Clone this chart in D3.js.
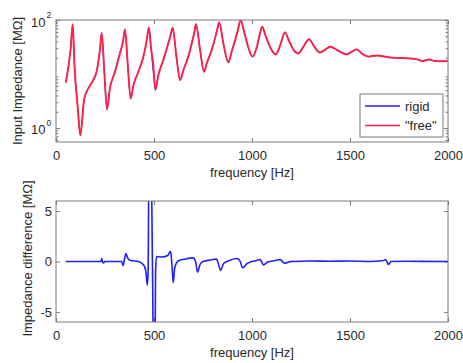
<!DOCTYPE html>
<html>
<head>
<meta charset="utf-8">
<script src="https://cdn.jsdelivr.net/npm/d3@7"></script>
<style>
  body { margin: 0; background: #fff; }
  svg { display: block; font-family: "Liberation Sans", Arial, Helvetica, sans-serif; }
</style>
</head>
<body>
<div id="chart"></div>
<script>
// Input impedance, "free" end - Hz / MOhm
const freeFreq = [50,63,75,85,95,111,124,143,160,190,207,224,233,246,260,275,301,326,343,352,366,381,
  395,420,446,462,474,485,490,495,507,522,547,573,586,595,615,633,650,675,697,707,714,735,755,
  769,794,816,826,832,855,879,895,912,928,942,960,980,1003,1025,1040,1052,1070,1095,1121,
  1145,1168,1190,1212,1236,1262,1291,1318,1347,1372,1398,1440,1483,1510,1534,1560,1593,
  1636,1700,1760,1800,1840,1870,1900,1930,1960,2000];
const freeVal = [6.9,13.5,30,84,13,2.4,0.73,3.3,5.0,7.7,11,27.7,58,11.8,2.2,5.4,11,24,42,67,15,3.5,
  6.2,11,21,40,72,30,22,17,5.2,9.5,18,37,55,72,20,7.7,11.8,21,43,62,84,28,11,
  15.7,27.7,53,75,91,35,16.4,25,40,65,100,60,32,21,32,55,75,50,30,23,
  35,59,40,28,24,32,44,32,25,28,32,27,23,26,28.6,24,21,
  22,20.3,19.8,19.5,18.8,17.3,18.6,17.5,17.2,17.3];

// rigid end: same curve except around 500 Hz
const rigidFreq = [50,63,75,85,95,111,124,143,160,190,207,224,233,246,260,275,301,326,343,352,366,381,
  395,420,446,462,474,485,492,500,507,522,547,573,586,595,615,633,650,675,697,707,714,735,755,
  769,794,816,826,832,855,879,895,912,928,942,960,980,1003,1025,1040,1052,1070,1095,1121,
  1145,1168,1190,1212,1236,1262,1291,1318,1347,1372,1398,1440,1483,1510,1534,1560,1593,
  1636,1700,1760,1800,1840,1870,1900,1930,1960,2000];
const rigidVal = [6.9,13.5,30,84,13,2.4,0.73,3.3,5.0,7.7,11,27.7,58,11.8,2.2,5.4,11,24,42,67,15,3.5,
  6.2,11,21,40,74,30,16,8,5.0,9.5,18,37,55,72,20,7.7,11.8,21,43,62,84,28,11,
  15.7,27.7,53,75,91,35,16.4,25,40,65,100,60,32,21,32,55,75,50,30,23,
  35,59,40,28,24,32,44,32,25,28,32,27,23,26,28.6,24,21,
  22,20.3,19.8,19.5,18.8,17.3,18.6,17.5,17.2,17.3];

// Impedance difference (rigid - free), MOhm
const diffFreq = [50,225,230,234,238,242,250,335,342,350,357,365,380,420,445,458,466,470,475,484,492,499,504,508,
  513,540,570,585,592,598,606,623,660,700,712,722,735,750,790,819,828,840,855,878,925,940,952,975,1000,
  1024,1041,1048,1058,1080,1120,1143,1155,1168,1200,1300,1400,1500,1600,1672,1680,1688,1696,1710,1800,2000];
const diffVal = [0,0,0.05,0.3,-0.1,-0.15,0,0,-0.4,0.3,0.8,0.35,0.1,0,-0.3,-0.9,-2.35,-1,12,12,0,-12,-12,-1,
  0.5,0.45,0.6,1.0,-0.5,-2.1,-0.6,0.05,0.25,0.36,0,-1.05,-0.3,0,0.15,0.25,-0.2,-0.88,-0.2,0.05,0.3,0,-0.62,-0.2,0,
  0.1,0.2,0,-0.33,-0.05,0.1,0.2,0,-0.16,0,0.05,0.03,0.05,0,0.1,0.2,0,-0.3,0,0.02,0];

const xTicks = [0,500,1000,1500,2000];
const logMajor = [1,100];
const logMinor = [0.6,0.7,0.8,0.9,2,3,4,5,6,7,8,9,20,30,40,50,60,70,80,90];
const diffTicks = [-5,0,5];

const seriesNames = ["rigid", "\"free\""];
const colRigid = "#1f1fff";
const colFree = "#ff2248";
const axisCol = "#7a7a7a";
const textCol = "#2a2a2a";

const W = 463, H = 363;
const x0 = 56, x1 = 448;

const svg = d3.select("#chart").append("svg")
  .attr("width", W)
  .attr("height", H);

const x = d3.scaleLinear().domain([0, 2000]).range([x0, x1]);
const y1 = d3.scaleLog().domain([0.55, 100]).range([142, 20]);
const y2 = d3.scaleLinear().domain([-6, 6]).range([322, 201]);

function styleAxis(sel){
  sel.select(".domain").remove();
  sel.selectAll("line").attr("stroke", axisCol);
  sel.selectAll("text").attr("fill", textCol).style("font-size", "13px")
    .style("font-family", "\"Liberation Sans\", Arial, sans-serif");
}

function clip(id, yTop, yBot){
  svg.append("clipPath").attr("id", id)
    .append("rect").attr("x", x0).attr("y", yTop).attr("width", x1 - x0).attr("height", yBot - yTop);
}

// ---------- top panel ----------
const panTop = { y0: 20, y1: 142 };
clip("clipTop", panTop.y0, panTop.y1);

svg.append("g").attr("transform", `translate(0,${panTop.y1})`)
  .call(d3.axisBottom(x).tickValues(xTicks).tickSize(-4).tickPadding(9).tickFormat(d => d))
  .call(styleAxis);
svg.append("g").attr("transform", `translate(0,${panTop.y0})`)
  .call(d3.axisTop(x).tickValues(xTicks).tickSize(-4).tickFormat(""))
  .call(styleAxis);

// log axis: major + minor ticks both sides
[[d3.axisLeft, x0], [d3.axisRight, x1]].forEach(([ax, px]) => {
  svg.append("g").attr("transform", `translate(${px},0)`)
    .call(ax(y1).tickValues(logMajor).tickSize(-4).tickFormat(""))
    .call(styleAxis);
  svg.append("g").attr("transform", `translate(${px},0)`)
    .call(ax(y1).tickValues(logMinor).tickSize(-2.5).tickFormat(""))
    .call(styleAxis);
});

// 10^n labels
const expLab = svg.append("g").selectAll("g").data(logMajor).enter().append("g");
expLab.append("text")
  .attr("x", 45.5).attr("y", d => y1(d) + 6.5)
  .attr("text-anchor", "end").attr("fill", textCol).style("font-size", "13px")
  .text("10");
expLab.append("text")
  .attr("x", 46.5).attr("y", d => y1(d) - 2)
  .attr("fill", textCol).style("font-size", "8.5px")
  .text(d => Math.round(Math.log10(d)));

const lineTop = d3.line()
  .x(d => x(d[0]))
  .y(d => y1(d[1]))
  .curve(d3.curveMonotoneX);

// rigid drawn thin underneath, free on top hides it except near 500 Hz
const gTop = svg.append("g").attr("clip-path", "url(#clipTop)");
gTop.append("path")
  .datum(rigidFreq.map((f, i) => [f, rigidVal[i]]))
  .attr("d", lineTop)
  .attr("fill", "none").attr("stroke", colRigid).attr("stroke-width", 1.1);
gTop.append("path")
  .datum(freeFreq.map((f, i) => [f, freeVal[i]]))
  .attr("d", lineTop)
  .attr("fill", "none").attr("stroke", colFree).attr("stroke-width", 1.9);

svg.append("rect")
  .attr("x", x0).attr("y", panTop.y0).attr("width", x1 - x0).attr("height", panTop.y1 - panTop.y0)
  .attr("fill", "none").attr("stroke", axisCol);

// legend
const leg = svg.append("g").attr("transform", "translate(360,94)");
leg.append("rect").attr("width", 83).attr("height", 43)
  .attr("fill", "#fff").attr("stroke", axisCol);
seriesNames.forEach((nm, i) => {
  const yy = 12 + i * 19.5;
  leg.append("line").attr("x1", 5).attr("x2", 40).attr("y1", yy).attr("y2", yy)
    .attr("stroke", i === 0 ? colRigid : colFree).attr("stroke-width", 1.6);
  leg.append("text").attr("x", 45).attr("y", yy + 4.5)
    .attr("fill", textCol).style("font-size", "13px").text(nm);
});

svg.append("text")
  .attr("x", (x0 + x1) / 2).attr("y", 177)
  .attr("text-anchor", "middle").attr("fill", textCol).style("font-size", "13px")
  .text("frequency [Hz]");
svg.append("text")
  .attr("transform", `translate(22,${(panTop.y0 + panTop.y1) / 2}) rotate(-90)`)
  .attr("text-anchor", "middle").attr("fill", textCol).style("font-size", "13px")
  .text("Input Impedance [M\u03A9]");

// ---------- bottom panel ----------
const panBot = { y0: 201, y1: 322 };
clip("clipBot", panBot.y0, panBot.y1);

svg.append("g").attr("transform", `translate(0,${panBot.y1})`)
  .call(d3.axisBottom(x).tickValues(xTicks).tickSize(-4).tickPadding(9).tickFormat(d => d))
  .call(styleAxis);
svg.append("g").attr("transform", `translate(0,${panBot.y0})`)
  .call(d3.axisTop(x).tickValues(xTicks).tickSize(-4).tickFormat(""))
  .call(styleAxis);
svg.append("g").attr("transform", `translate(${x0},0)`)
  .call(d3.axisLeft(y2).tickValues(diffTicks).tickSize(-4).tickPadding(4).tickFormat(d => String(d)))
  .call(styleAxis);
svg.append("g").attr("transform", `translate(${x1},0)`)
  .call(d3.axisRight(y2).tickValues(diffTicks).tickSize(-4).tickFormat(""))
  .call(styleAxis);

const lineBot = d3.line()
  .x(d => x(d[0]))
  .y(d => y2(d[1]))
  .curve(d3.curveMonotoneX);

svg.append("g").attr("clip-path", "url(#clipBot)")
  .append("path")
  .datum(diffFreq.map((f, i) => [f, diffVal[i]]))
  .attr("d", lineBot)
  .attr("fill", "none").attr("stroke", colRigid).attr("stroke-width", 1.6);

svg.append("rect")
  .attr("x", x0).attr("y", panBot.y0).attr("width", x1 - x0).attr("height", panBot.y1 - panBot.y0)
  .attr("fill", "none").attr("stroke", axisCol);

svg.append("text")
  .attr("x", (x0 + x1) / 2).attr("y", 357)
  .attr("text-anchor", "middle").attr("fill", textCol).style("font-size", "13px")
  .text("frequency [Hz]");
svg.append("text")
  .attr("transform", `translate(31.5,${(panBot.y0 + panBot.y1) / 2 - 3}) rotate(-90)`)
  .attr("text-anchor", "middle").attr("fill", textCol).style("font-size", "13px")
  .text("Impedance difference [M\u03A9]");
</script>
</body>
</html>
